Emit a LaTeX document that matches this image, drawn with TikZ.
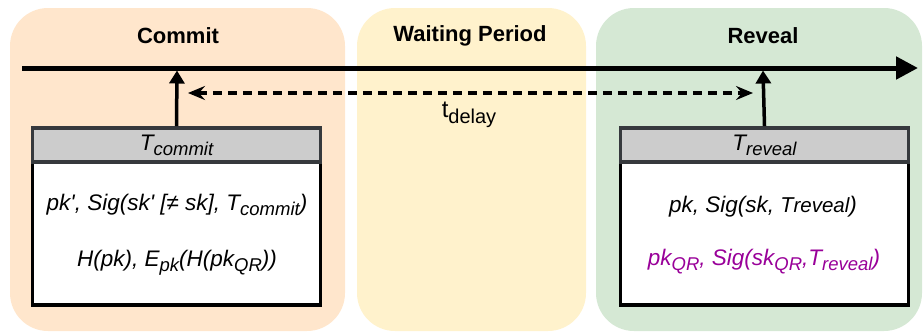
\documentclass[tikz,border=0pt]{standalone}
\usepackage{fontspec}
\setmainfont{Liberation Sans}
\usetikzlibrary{arrows.meta}
\definecolor{commitbg}{HTML}{FFE6CC}
\definecolor{waitbg}{HTML}{FFF2CC}
\definecolor{revealbg}{HTML}{D5E8D4}
\definecolor{hdrgray}{HTML}{CCCCCC}
\definecolor{hdrline}{HTML}{36393D}
\definecolor{qrpurple}{HTML}{990099}
\newcommand{\lowsub}[1]{\raisebox{-5pt}{\fontsize{18.5}{20}\selectfont #1}}
\begin{document}
\begin{tikzpicture}[x=1pt,y=-1pt,
  panel/.style={draw=none, rounded corners=38pt, inner sep=0pt},
  ptitle/.style={font=\fontsize{22}{26}\selectfont\bfseries, inner sep=0pt},
  hdr/.style={draw=hdrline, fill=hdrgray, line width=3.5pt, minimum width=288pt, minimum height=34.25pt, inner sep=0pt, font=\fontsize{22.5}{26}\selectfont\itshape},
  bodybox/.style={draw=black, fill=white, line width=3.5pt, minimum width=288pt, minimum height=143pt, inner sep=0pt},
  btext/.style={font=\fontsize{22.5}{26}\selectfont\itshape, inner sep=0pt},
  tline/.style={line width=5pt, -{Triangle[length=22pt,width=22pt]}},
  upar/.style={line width=3.5pt, -{Triangle[length=13pt,width=15pt]}},
  darr/.style={line width=3.5pt, dash pattern=on 9pt off 6pt, {Stealth[length=17pt,width=14pt,inset=6pt]}-{Stealth[length=17pt,width=14pt,inset=6pt]}}
]
\useasboundingbox (0,0) rectangle (923,332);
% panels
\node[panel, fill=commitbg, minimum width=335pt, minimum height=323pt] (commitpanel) at (177.5,169.5) {};
\node[panel, fill=waitbg, minimum width=229pt, minimum height=323pt] (waitpanel) at (471.5,169.5) {};
\node[panel, fill=revealbg, minimum width=326pt, minimum height=323pt] (revealpanel) at (759,169.5) {};
% titles
\node[ptitle] (committitle) at (178,36) {Commit};
\node[ptitle] (waittitle) at (470,36) {Waiting Period};
\node[ptitle] (revealtitle) at (763,36) {Reveal};
% timeline
\coordinate (tlstart) at (22,68);
\coordinate (tlend) at (918,68);
\draw[tline] (tlstart) -- (tlend);
% boxes
\node[bodybox] (commitbody) at (176.5,233.6) {};
\node[hdr] (commithdr) at (176.5,145) {T\lowsub{commit}};
\node[bodybox] (revealbody) at (764.5,233.6) {};
\node[hdr] (revealhdr) at (764.5,145) {T\lowsub{reveal}};
% body texts
\node[btext] (cline1) at (177,205) {pk\textquotesingle, Sig(sk\textquotesingle\ [≠ sk], T\lowsub{commit})};
\node[btext] (cline2) at (177,263) {H(pk), E\lowsub{pk}(H(pk\lowsub{QR}))};
\node[btext] (rline1) at (763,207) {pk, Sig(sk, {\fontsize{21.5}{24}\selectfont T}{\fontsize{20.5}{24}\selectfont reveal})};
\node[btext, text=qrpurple] (rline2) at (764,262) {pk\lowsub{QR}, Sig(sk\lowsub{QR},T\lowsub{reveal})};
% markers
\coordinate (commitmark) at (177,70.5);
\coordinate (revealmark) at (763,70.5);
\draw[upar] (commithdr.north) -- (commitmark);
\draw[upar] (revealhdr.north) -- (revealmark);
% delay
\coordinate (dleft) at (188,93);
\coordinate (dright) at (753,93);
\draw[darr] (dleft) -- (dright);
\node[font=\fontsize{24}{28}\selectfont, inner sep=0pt] (tdelay) at (469,115) {t\raisebox{-6pt}{\fontsize{20}{22}\selectfont delay}};
\end{tikzpicture}
\end{document}
